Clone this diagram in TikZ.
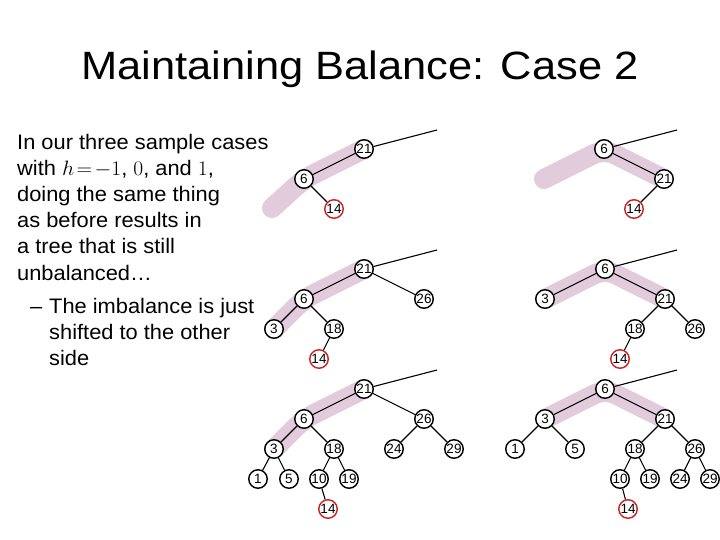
\documentclass[tikz,border=0pt]{standalone}
\usepackage[no-math]{fontspec}
\setmainfont{Liberation Sans}
\usepackage{graphicx}
\definecolor{band}{RGB}{226,203,218}
\definecolor{redring}{RGB}{205,35,35}
\newcommand{\wdx}[1]{\scalebox{1.04}[1]{#1}}
\tikzset{
 tn/.style={circle, draw=black, fill=white, line width=1.4pt, minimum size=18.5pt, inner sep=0pt, font=\fontsize{13.5}{13.5}\selectfont},
 tnr/.style={tn, draw=redring},
 edge/.style={line width=1.1pt},
 hl/.style={draw=band, line width=20pt, line cap=round, line join=round, rounded corners=12pt},
 txt/.style={anchor=base west, inner sep=0pt, font=\fontsize{21}{21}\selectfont}
}
\begin{document}
\begin{tikzpicture}[x=1pt,y=-1pt]
\useasboundingbox (0,0) rectangle (720,540);
% title
\node[anchor=base, inner sep=0pt, font=\fontsize{39.5}{40}\selectfont] (title) at (360,79.5) {\scalebox{1.1}[1]{Maintaining Balance: Case 2}};
% body text
\node[txt] (l1) at (17,150) {\wdx{In our three sample cases}};
\node[txt] (l2) at (17,176) {\wdx{with $h\!=\!-1$, $0$, and $1$,}};
\node[txt] (l3) at (17,202) {\wdx{doing the same thing}};
\node[txt] (l4) at (17,228) {\wdx{as before results in}};
\node[txt] (l5) at (17,254) {\wdx{a tree that is still}};
\node[txt] (l6) at (17,280) {\wdx{unbalanced\ldots}};
\node[txt] (dash) at (30,313) {\wdx{–}};
\node[txt] (l7) at (49,313) {\wdx{The imbalance is just}};
\node[txt] (l8) at (49,339) {\wdx{shifted to the other}};
\node[txt] (l9) at (49,365) {\wdx{side}};

% ===== highlight bands
\draw[hl] (272,208) -- (304,179) -- (364,149);
\draw[hl] (544,179) -- (604,149) -- (664,179);
\draw[hl] (274,329) -- (304,299) -- (364,269);
\draw[hl] (545,299) -- (605,269) -- (665,299);
\draw[hl] (274,449) -- (304,419) -- (364,389);
\draw[hl] (545,419) -- (605,389) -- (665,419);

% ===== Tree 1 left
\coordinate (a0) at (437,130);
\node[tn] (a21) at (364,149) {21};
\node[tn] (a6) at (304,179) {6};
\node[tnr] (a14) at (334,209) {14};
\draw[edge] (a21) -- (a0);
\draw[edge] (a21) -- (a6);
\draw[edge] (a6) -- (a14);

% ===== Tree 1 right
\coordinate (b0) at (677,130);
\node[tn] (b6) at (604,149) {6};
\node[tn] (b21) at (664,179) {21};
\node[tnr] (b14) at (634,209) {14};
\draw[edge] (b6) -- (b0);
\draw[edge] (b6) -- (b21);
\draw[edge] (b21) -- (b14);

% ===== Tree 2 left
\coordinate (c0) at (437,250);
\node[tn] (c21) at (364,269) {21};
\node[tn] (c6) at (304,299) {6};
\node[tn] (c26) at (424,299) {26};
\node[tn] (c3) at (274,329) {3};
\node[tn] (c18) at (334,329) {18};
\node[tnr] (c14) at (319,359) {14};
\draw[edge] (c21) -- (c0);
\draw[edge] (c21) -- (c6);
\draw[edge] (c21) -- (c26);
\draw[edge] (c6) -- (c3);
\draw[edge] (c6) -- (c18);
\draw[edge] (c18) -- (c14);

% ===== Tree 2 right
\coordinate (d0) at (677,250);
\node[tn] (d6) at (605,269) {6};
\node[tn] (d3) at (545,299) {3};
\node[tn] (d21) at (665,299) {21};
\node[tn] (d18) at (635,329) {18};
\node[tn] (d26) at (695,329) {26};
\node[tnr] (d14) at (620,359) {14};
\draw[edge] (d6) -- (d0);
\draw[edge] (d6) -- (d3);
\draw[edge] (d6) -- (d21);
\draw[edge] (d21) -- (d18);
\draw[edge] (d21) -- (d26);
\draw[edge] (d18) -- (d14);

% ===== Tree 3 left
\coordinate (e0) at (437,370);
\node[tn] (e21) at (364,389) {21};
\node[tn] (e6) at (304,419) {6};
\node[tn] (e26) at (424,419) {26};
\node[tn] (e3) at (274,449) {3};
\node[tn] (e18) at (334,449) {18};
\node[tn] (e24) at (394,449) {24};
\node[tn] (e29) at (454,449) {29};
\node[tn] (e1) at (258,479) {1};
\node[tn] (e5) at (289,479) {5};
\node[tn] (e10) at (319,479) {10};
\node[tn] (e19) at (349,479) {19};
\node[tnr] (e14) at (328,509) {14};
\draw[edge] (e21) -- (e0);
\draw[edge] (e21) -- (e6);
\draw[edge] (e21) -- (e26);
\draw[edge] (e6) -- (e3);
\draw[edge] (e6) -- (e18);
\draw[edge] (e26) -- (e24);
\draw[edge] (e26) -- (e29);
\draw[edge] (e3) -- (e1);
\draw[edge] (e3) -- (e5);
\draw[edge] (e18) -- (e10);
\draw[edge] (e18) -- (e19);
\draw[edge] (e10) -- (e14);

% ===== Tree 3 right
\coordinate (f0) at (677,370);
\node[tn] (f6) at (605,389) {6};
\node[tn] (f3) at (545,419) {3};
\node[tn] (f21) at (665,419) {21};
\node[tn] (f1) at (515,449) {1};
\node[tn] (f5) at (575,449) {5};
\node[tn] (f18) at (635,449) {18};
\node[tn] (f26) at (695,449) {26};
\node[tn] (f10) at (620,479) {10};
\node[tn] (f19) at (650,479) {19};
\node[tn] (f24) at (680,479) {24};
\node[tn] (f29) at (710,479) {29};
\node[tnr] (f14) at (628,509) {14};
\draw[edge] (f6) -- (f0);
\draw[edge] (f6) -- (f3);
\draw[edge] (f6) -- (f21);
\draw[edge] (f3) -- (f1);
\draw[edge] (f3) -- (f5);
\draw[edge] (f21) -- (f18);
\draw[edge] (f21) -- (f26);
\draw[edge] (f18) -- (f10);
\draw[edge] (f18) -- (f19);
\draw[edge] (f26) -- (f24);
\draw[edge] (f26) -- (f29);
\draw[edge] (f10) -- (f14);
\end{tikzpicture}
\end{document}
